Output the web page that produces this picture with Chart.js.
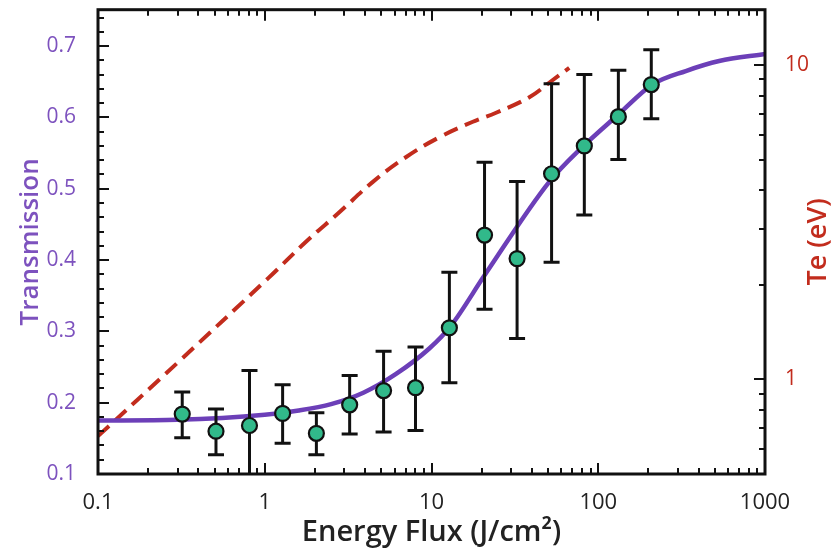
<!DOCTYPE html>
<html>
<head>
<meta charset="utf-8">
<script src="https://cdn.jsdelivr.net/npm/chart.js@4.4.1/dist/chart.umd.min.js"></script>
<style>
  html, body { margin: 0; padding: 0; background: #fff; }
  #wrap { width: 840px; height: 552px; }
</style>
</head>
<body>
<div id="wrap"><canvas id="fluxChart"></canvas></div>
<script>
// measured transmission vs energy flux, with error bars
var fluxPts  = [0.32, 0.51, 0.81, 1.28, 2.04, 3.23, 5.16, 8.02, 12.8, 20.8, 32.6, 52.5, 82.5, 132, 208];
var transPts = [0.184, 0.160, 0.168, 0.185, 0.157, 0.197, 0.217, 0.221, 0.305, 0.435, 0.402, 0.521, 0.560, 0.601, 0.646];
var errHigh  = [0.215, 0.191, 0.245, 0.225, 0.186, 0.238, 0.272, 0.278, 0.383, 0.537, 0.510, 0.647, 0.660, 0.666, 0.695];
var errLow   = [0.151, 0.127, 0.090, 0.143, 0.127, 0.156, 0.159, 0.161, 0.228, 0.331, 0.290, 0.397, 0.463, 0.541, 0.598];

// model transmission curve (solid purple)
var fitFlux  = [0.1, 0.3, 1, 1.6, 2.5, 3.9, 6.1, 9.7, 13, 21, 51, 80, 132, 211, 335, 531, 1000];
var fitTrans = [0.175, 0.176, 0.183, 0.189, 0.198, 0.214, 0.240, 0.276, 0.307, 0.380, 0.510, 0.558, 0.604, 0.646, 0.665, 0.679, 0.689];

// electron temperature (dashed red, right axis)
var teFlux = [0.1, 0.3, 1.05, 1.78, 2.8, 4.45, 7.05, 11.2, 17.7, 24.4, 38.6, 51, 67];
var teVals = [0.66, 1.13, 2.10, 2.75, 3.4, 4.25, 5.1, 5.9, 6.6, 7.05, 7.9, 8.8, 9.8];

// tick labels
var xTicks  = [0.1, 1, 10, 100, 1000];
var yTicks  = [0.1, 0.2, 0.3, 0.4, 0.5, 0.6, 0.7];
var y2Ticks = [1, 10];

var purple = '#6c3fb8';
var purpleText = '#7d52be';
var red = '#c22c1d';
var green = '#31b98a';

var FONT = '"Open Sans", "Noto Sans", sans-serif';

function pairs(xs, ys) {
  return xs.map(function (v, i) { return { x: v, y: ys[i] }; });
}

function logMinor(min, max) {
  var out = [];
  for (var d = -2; d <= 3; d++) {
    for (var m = 1; m <= 9; m++) {
      var v = m * Math.pow(10, d);
      if (v >= min * 0.999 && v <= max * 1.001) out.push({ v: v, major: m === 1 });
    }
  }
  return out;
}

// vertical scales reserve half a label above/below; the frame here doesn't need it
function noPad(s) { s.paddingTop = 0; s.paddingBottom = 0; }

var frameTicks = {
  id: 'frameTicks',
  beforeDatasetDraw: function (chart, args) {
    if (args.index !== 0) return;
    var ctx = chart.ctx, a = chart.chartArea;
    var x = chart.scales.x, y = chart.scales.y;
    ctx.save();
    ctx.beginPath();
    ctx.rect(a.left, a.top, a.right - a.left, a.bottom - a.top);
    ctx.clip();
    ctx.strokeStyle = '#111';
    ctx.lineWidth = 3;
    fluxPts.forEach(function (f, i) {
      var px = x.getPixelForValue(f);
      var hi = y.getPixelForValue(errHigh[i]);
      var lo = y.getPixelForValue(errLow[i]);
      ctx.beginPath();
      ctx.moveTo(px, hi); ctx.lineTo(px, lo);
      ctx.moveTo(px - 8, hi); ctx.lineTo(px + 8, hi);
      ctx.moveTo(px - 8, lo); ctx.lineTo(px + 8, lo);
      ctx.stroke();
    });
    ctx.restore();
  },
  afterDraw: function (chart) {
    var ctx = chart.ctx, a = chart.chartArea;
    var x = chart.scales.x, y = chart.scales.y, y2 = chart.scales.y2;
    ctx.save();
    ctx.strokeStyle = '#111';
    ctx.lineWidth = 2;
    ctx.beginPath();
    logMinor(x.min, x.max).forEach(function (t) {
      var px = Math.round(x.getPixelForValue(t.v));
      var len = t.major ? 11 : 6;
      ctx.moveTo(px, a.bottom); ctx.lineTo(px, a.bottom - len);
      ctx.moveTo(px, a.top); ctx.lineTo(px, a.top + len);
    });
    for (var k = 0; k <= 32; k++) {
      var v = 0.1 + k * 0.02;
      if (v > y.max) break;
      var py = Math.round(y.getPixelForValue(v));
      ctx.moveTo(a.left, py); ctx.lineTo(a.left + (k % 5 === 0 ? 11 : 6), py);
    }
    logMinor(y2.min, y2.max).forEach(function (t) {
      var py = Math.round(y2.getPixelForValue(t.v));
      ctx.moveTo(a.right, py); ctx.lineTo(a.right - (t.major ? 11 : 6), py);
    });
    ctx.stroke();
    ctx.lineWidth = 3;
    ctx.strokeRect(a.left, a.top, a.right - a.left, a.bottom - a.top);

    // right axis title reads bottom-to-top like the left one
    ctx.translate(y2.right - 22, (a.top + a.bottom) / 2);
    ctx.rotate(-Math.PI / 2);
    ctx.font = '600 27px ' + FONT;
    ctx.fillStyle = red;
    ctx.textAlign = 'center';
    ctx.textBaseline = 'middle';
    ctx.fillText('Te (eV)', 0, 0);
    ctx.restore();
  }
};

new Chart(document.getElementById('fluxChart'), {
  type: 'line',
  data: {
    datasets: [
      {
        label: 'Measured',
        data: pairs(fluxPts, transPts),
        yAxisID: 'y',
        showLine: false,
        pointRadius: 7.5,
        pointBackgroundColor: green,
        pointBorderColor: '#111',
        pointBorderWidth: 2.2
      },
      {
        label: 'Transmission fit',
        data: pairs(fitFlux, fitTrans),
        yAxisID: 'y',
        borderColor: purple,
        borderWidth: 4.5,
        pointRadius: 0,
        cubicInterpolationMode: 'monotone'
      },
      {
        label: 'Te',
        data: pairs(teFlux, teVals),
        yAxisID: 'y2',
        borderColor: red,
        borderWidth: 4,
        borderDash: [15, 8],
        pointRadius: 0,
        tension: 0.4
      }
    ]
  },
  options: {
    responsive: true,
    maintainAspectRatio: false,
    animation: false,
    layout: { padding: { top: 6, right: 0, left: 0, bottom: 0 } },
    plugins: { legend: { display: false }, tooltip: { enabled: false } },
    scales: {
      x: {
        type: 'logarithmic',
        min: 0.1,
        max: 1000,
        grid: { display: false },
        border: { display: false },
        afterBuildTicks: function (s) { s.ticks = xTicks.map(function (v) { return { value: v }; }); },
        afterFit: function (s) { s.height = 78; s.paddingLeft = 0; s.paddingRight = 0; },
        ticks: {
          autoSkip: false,
          maxRotation: 0,
          padding: 8,
          color: '#222',
          font: { family: FONT, size: 22 },
          callback: function (v) { return String(v); }
        },
        title: {
          display: true,
          text: 'Energy Flux (J/cm²)',
          color: '#222',
          font: { family: FONT, size: 29, weight: '600' },
          padding: { top: 0, bottom: 2 }
        }
      },
      y: {
        position: 'left',
        min: 0.1,
        max: 0.751,
        grid: { display: false },
        border: { display: false },
        afterBuildTicks: function (s) { s.ticks = yTicks.map(function (v) { return { value: v }; }); },
        afterFit: function (s) { s.width = 98; noPad(s); },
        ticks: {
          padding: 14,
          color: purpleText,
          font: { family: FONT, size: 21 },
          callback: function (v) { return v.toFixed(1); }
        },
        title: {
          display: true,
          text: 'Transmission',
          color: purpleText,
          font: { family: FONT, size: 26, weight: '600' },
          padding: { top: 15, bottom: 0 }
        }
      },
      y2: {
        type: 'logarithmic',
        position: 'right',
        min: 0.5,
        max: 15,
        grid: { display: false },
        border: { display: false },
        afterBuildTicks: function (s) { s.ticks = y2Ticks.map(function (v) { return { value: v }; }); },
        afterFit: function (s) { s.width = 75; noPad(s); },
        ticks: {
          padding: 12,
          color: red,
          font: { family: FONT, size: 21 },
          callback: function (v) { return String(v); }
        }
      }
    }
  },
  plugins: [frameTicks]
});
</script>
</body>
</html>
